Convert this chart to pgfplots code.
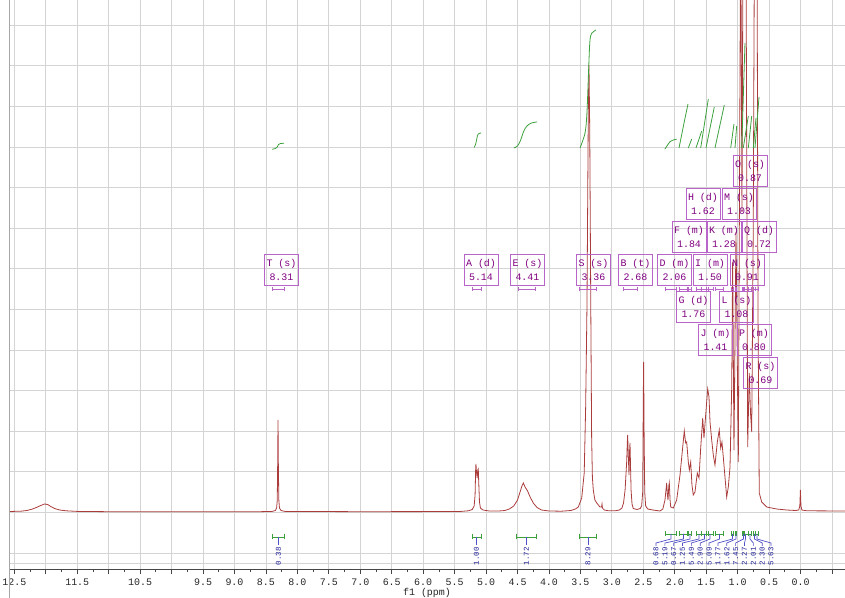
\documentclass[border=0pt]{standalone}
\usepackage{fontspec}
\setmainfont{Liberation Mono}
\usepackage{pgfplots}
\pgfplotsset{compat=1.18}
\usetikzlibrary{arrows.meta}
\definecolor{spec}{RGB}{170,60,60}
\definecolor{gridc}{RGB}{212,212,212}
\definecolor{axisc}{RGB}{70,70,70}
\definecolor{intc}{RGB}{60,160,60}
\definecolor{boxc}{RGB}{185,100,200}
\definecolor{boxt}{RGB}{128,0,128}
\definecolor{bluel}{RGB}{80,80,200}
\definecolor{bluet}{RGB}{30,30,150}
\tikzset{
  lab/.style={draw=boxc, line width=0.8bp, text=boxt, minimum width=34bp, minimum height=31bp, inner sep=0pt, align=center, font=\fontsize{10}{14}\selectfont},
  pbr/.style={draw=boxc, line width=0.8bp, {Bar[width=4bp]}-{Bar[width=4bp]}},
  gbr/.style={draw=intc, line width=0.8bp, {Bar[width=5bp]}-{Bar[width=5bp]}},
  ilab/.style={rotate=90, anchor=east, text=bluet, font=\fontsize{7.5}{8}\selectfont, inner sep=0pt},
  istem/.style={draw=bluel, line width=0.7bp},
  integ/.style={intc, line width=0.8bp, no marks},
}
\begin{document}
\begin{tikzpicture}
\begin{axis}[
  at={(0,0)}, anchor=south west,
  scale only axis, width=836bp, height=569bp,
  xmin=-0.706, xmax=12.585, x dir=reverse,
  ymin=-57, ymax=512,
  axis x line*=bottom, axis y line*=left,
  y axis line style={draw=none},
  ytick style={draw=none},
  x axis line style={draw=axisc, line width=1bp},
  xtick={-0.5,0,...,12.5},
  xticklabels={,0.0,0.5,1.0,1.5,2.0,2.5,3.0,3.5,4.0,4.5,5.0,5.5,6.0,6.5,7.0,7.5,8.0,8.5,9.0,9.5,,10.5,,11.5,,12.5},
  minor x tick num=1,
  tick align=outside,
  major tick length=5bp, minor tick length=3bp,
  xtick style={draw=axisc, line width=0.8bp},
  ytick={-51,-41,-0.4,40.2,80.8,121.4,162,202.6,243.2,283.8,324.4,365,405.6,446.2,486.8},
  yticklabels={},
  grid=major,
  major grid style={draw=gridc, line width=0.8bp},
  xticklabel style={font=\fontsize{10}{12}\selectfont, text=black!85, yshift=-1.5bp},
  xlabel={f1 (ppm)},
  xlabel style={font=\fontsize{10}{12}\selectfont, text=black!85, inner sep=0pt, yshift=1bp},
  clip=true,
]
% ---------------- spectrum ----------------
\addplot[spec, line width=0.8bp, no marks] coordinates {
(12.58,0.5)(12.40,0.8)(12.30,1.5)(12.22,2.8)(12.15,4.5)(12.08,6.5)(12.02,8)(11.97,7.5)(11.92,5.5)(11.86,3.5)(11.78,2)(11.68,1.2)(11.50,0.6)(11.00,0.3)(10.00,0.2)(9.00,0.2)(8.60,0.3)
(8.40,0.6)(8.35,1.5)(8.33,4)(8.32,12)(8.313,50)(8.308,92)(8.303,50)(8.295,12)(8.285,4)(8.26,1.5)(8.20,0.6)(7.00,0.3)(6.00,0.4)
(5.40,0.6)(5.28,1.2)(5.22,2.5)(5.19,6)(5.175,17)(5.166,42)(5.161,48)(5.153,40)(5.142,34)(5.132,42)(5.124,43)(5.117,30)(5.105,10)(5.09,4)(5.05,2)(4.95,1)
(4.80,1)(4.70,1.5)(4.63,3)(4.56,6)(4.50,12)(4.46,20)(4.43,26)(4.408,29)(4.38,25)(4.34,21)(4.30,15)(4.25,9)(4.19,4.5)(4.12,2)(4.00,1)(3.80,0.8)
(3.65,1.5)(3.58,3)(3.534,5)(3.48,14)(3.44,39)(3.417,105)(3.396,206)(3.375,400)(3.364,447)(3.352,380)(3.335,200)(3.322,75)(3.31,35)(3.296,22)(3.27,12)(3.24,9)(3.19,5)(3.165,5)(3.157,8)(3.15,4)(3.12,2)(3.05,1.2)
(2.95,1.2)(2.88,2)(2.84,4)(2.815,9)(2.79,22)(2.765,50)(2.752,74)(2.749,77)(2.742,62)(2.728,37)(2.718,62)(2.712,69)(2.705,50)(2.695,22)(2.68,8)(2.66,3.5)(2.60,2.5)
(2.55,3.5)(2.527,6)(2.51,20)(2.50,120)(2.495,150)(2.488,80)(2.478,20)(2.463,6)(2.43,3)(2.35,2)
(2.235,1)(2.19,3)(2.156,12)(2.135,25)(2.129,29)(2.118,18)(2.108,12)(2.095,26)(2.087,29)(2.075,12)(2.065,5)(2.024,4)
(1.97,12)(1.917,37)(1.874,65)(1.849,81)(1.827,69)(1.811,70)(1.785,50)(1.769,42)(1.747,50)(1.727,27)(1.706,17)(1.679,20)(1.642,39)(1.615,34)
(1.588,64)(1.556,94)(1.536,74)(1.515,92)(1.477,123)(1.456,115)(1.440,90)(1.413,72)(1.388,57)(1.361,47)(1.324,70)(1.293,82)(1.270,64)(1.250,70)
(1.229,55)(1.202,35)(1.175,15)(1.149,25)(1.122,45)(1.095,125)(1.080,250)(1.059,62)(1.027,280)(0.990,50)(0.952,600)(0.932,300)(0.911,650)(0.876,720)
(0.841,65)(0.816,139)(0.797,100)(0.777,80)(0.752,290)(0.725,720)(0.698,720)(0.677,200)(0.657,19)(0.618,10)(0.539,5)(0.380,3)(0.221,2)
(0.08,1.5)(0.03,2)(0.012,6)(0.003,22)(-0.006,6)(-0.02,2)(-0.10,1.2)(-0.71,1)
};
% ---------------- integral curves ----------------
\addplot[integ, smooth] coordinates {(8.40,362.7)(8.35,363.5)(8.32,365)(8.30,367.5)(8.27,368.5)(8.21,368.7)};
\addplot[integ, smooth] coordinates {(5.19,364.5)(5.165,368)(5.145,374)(5.125,378)(5.08,379)};
\addplot[integ, smooth] coordinates {(4.56,364)(4.50,366)(4.45,372)(4.40,381)(4.35,386)(4.28,389)(4.19,390)};
\addplot[integ, smooth] coordinates {(3.507,364)(3.427,379)(3.396,400)(3.364,452)(3.348,472)(3.321,478.7)(3.253,482)};
\addplot[integ, smooth] coordinates {(2.156,363)(2.076,370.3)(2.024,372)(1.97,372.7)};
\addplot[integ] coordinates {(1.933,364)(1.85,390)(1.79,408)};
\addplot[integ] coordinates {(1.785,364)(1.731,373)};
\addplot[integ] coordinates {(1.663,364)(1.572,381)};
\addplot[integ] coordinates {(1.588,364)(1.467,413)};
\addplot[integ] coordinates {(1.504,364)(1.372,405)};
\addplot[integ] coordinates {(1.361,364)(1.213,407)};
\addplot[integ] coordinates {(1.111,364)(1.059,388)};
\addplot[integ] coordinates {(1.043,364)(1.016,386)};
\addplot[integ] coordinates {(0.936,364)(0.884,469)};
\addplot[integ] coordinates {(0.911,364)(0.831,396)};
\addplot[integ] coordinates {(0.831,364)(0.777,396)};
\addplot[integ] coordinates {(0.752,364)(0.709,394)};
\addplot[integ] coordinates {(0.725,364)(0.661,415)};
% ---------------- multiplet brackets (purple) ----------------
\draw[pbr] (axis cs:8.40,223) -- (axis cs:8.20,223);
\draw[pbr] (axis cs:5.219,223) -- (axis cs:5.070,223);
\draw[pbr] (axis cs:4.493,223) -- (axis cs:4.211,223);
\draw[pbr] (axis cs:3.518,223) -- (axis cs:3.242,223);
\draw[pbr] (axis cs:2.819,223) -- (axis cs:2.590,223);
\draw[pbr] (axis cs:2.156,223) -- (axis cs:1.965,223);
\draw[pbr] (axis cs:1.933,223) -- (axis cs:1.790,223);
\draw[pbr] (axis cs:1.785,223) -- (axis cs:1.731,223);
\draw[pbr] (axis cs:1.663,223) -- (axis cs:1.572,223);
\draw[pbr] (axis cs:1.588,223) -- (axis cs:1.467,223);
\draw[pbr] (axis cs:1.504,223) -- (axis cs:1.372,223);
\draw[pbr] (axis cs:1.361,223) -- (axis cs:1.213,223);
\draw[pbr] (axis cs:1.111,223) -- (axis cs:1.059,223);
\draw[pbr] (axis cs:1.043,223) -- (axis cs:1.016,223);
\draw[pbr] (axis cs:0.936,223) -- (axis cs:0.884,223);
\draw[pbr] (axis cs:0.911,223) -- (axis cs:0.831,223);
\draw[pbr] (axis cs:0.831,223) -- (axis cs:0.777,223);
\draw[pbr] (axis cs:0.752,223) -- (axis cs:0.709,223);
\draw[pbr] (axis cs:0.725,223) -- (axis cs:0.661,223);
% ---------------- multiplet labels ----------------
\node[lab] at (axis cs:8.253,242.5) {T (s)\\8.31};
\node[lab] at (axis cs:5.081,242.5) {A (d)\\5.14};
\node[lab] at (axis cs:4.342,242.5) {E (s)\\4.41};
\node[lab] at (axis cs:3.293,242.5) {S (s)\\3.36};
\node[lab] at (axis cs:2.625,242.5) {B (t)\\2.68};
\node[lab] at (axis cs:2.005,242.5) {D (m)\\2.06};
\node[lab] at (axis cs:1.440,242.5) {I (m)\\1.50};
\node[lab] at (axis cs:0.852,242.5) {N (s)\\0.91};
\node[lab] at (axis cs:1.774,275.5) {F (m)\\1.84};
\node[lab] at (axis cs:1.218,275.5) {K (m)\\1.28};
\node[lab] at (axis cs:0.661,275.5) {Q (d)\\0.72};
\node[lab] at (axis cs:1.552,308.5) {H (d)\\1.62};
\node[lab] at (axis cs:0.979,308.5) {M (s)\\1.03};
\node[lab] at (axis cs:0.804,341.5) {O (s)\\0.87};
\node[lab] at (axis cs:1.703,205.5) {G (d)\\1.76};
\node[lab] at (axis cs:1.019,205.5) {L (s)\\1.08};
\node[lab] at (axis cs:1.353,172) {J (m)\\1.41};
\node[lab] at (axis cs:0.741,172) {P (m)\\0.80};
\node[lab] at (axis cs:0.638,139.5) {R (s)\\0.69};
% ---------------- integration brackets (green) and values ----------------
\draw[gbr] (axis cs:8.40,-25) -- (axis cs:8.20,-25);
\draw[gbr] (axis cs:5.22,-25) -- (axis cs:5.07,-25);
\draw[gbr] (axis cs:4.52,-25) -- (axis cs:4.19,-25);
\draw[gbr] (axis cs:3.53,-25) -- (axis cs:3.24,-25);
\draw[istem] (axis cs:8.300,-25) -- (axis cs:8.300,-33);
\draw[istem] (axis cs:5.153,-25) -- (axis cs:5.153,-33);
\draw[istem] (axis cs:4.358,-25) -- (axis cs:4.358,-33);
\draw[istem] (axis cs:3.380,-25) -- (axis cs:3.380,-33);
\node[ilab] at (axis cs:8.300,-35) {0.38};
\node[ilab] at (axis cs:5.153,-35) {1.00};
\node[ilab] at (axis cs:4.358,-35) {1.72};
\node[ilab] at (axis cs:3.380,-35) {8.29};
\draw[gbr] (axis cs:2.156,-22) -- (axis cs:1.965,-22);
\draw[gbr] (axis cs:1.933,-22) -- (axis cs:1.790,-22);
\draw[gbr] (axis cs:1.785,-22) -- (axis cs:1.731,-22);
\draw[gbr] (axis cs:1.663,-22) -- (axis cs:1.572,-22);
\draw[gbr] (axis cs:1.588,-22) -- (axis cs:1.467,-22);
\draw[gbr] (axis cs:1.504,-22) -- (axis cs:1.372,-22);
\draw[gbr] (axis cs:1.361,-22) -- (axis cs:1.213,-22);
\draw[gbr] (axis cs:1.111,-22) -- (axis cs:1.059,-22);
\draw[gbr] (axis cs:1.043,-22) -- (axis cs:1.016,-22);
\draw[gbr] (axis cs:0.936,-22) -- (axis cs:0.884,-22);
\draw[gbr] (axis cs:0.911,-22) -- (axis cs:0.831,-22);
\draw[gbr] (axis cs:0.831,-22) -- (axis cs:0.777,-22);
\draw[gbr] (axis cs:0.752,-22) -- (axis cs:0.709,-22);
\draw[gbr] (axis cs:0.725,-22) -- (axis cs:0.661,-22);
\draw[istem] (axis cs:2.060,-22) -- (axis cs:2.060,-27) -- (axis cs:2.299,-31) -- (axis cs:2.299,-34);
\draw[istem] (axis cs:1.862,-22) -- (axis cs:1.862,-27) -- (axis cs:2.158,-31) -- (axis cs:2.158,-34);
\draw[istem] (axis cs:1.758,-22) -- (axis cs:1.758,-27) -- (axis cs:2.017,-31) -- (axis cs:2.017,-34);
\draw[istem] (axis cs:1.615,-22) -- (axis cs:1.615,-27) -- (axis cs:1.877,-31) -- (axis cs:1.877,-34);
\draw[istem] (axis cs:1.528,-22) -- (axis cs:1.528,-27) -- (axis cs:1.736,-31) -- (axis cs:1.736,-34);
\draw[istem] (axis cs:1.440,-22) -- (axis cs:1.440,-27) -- (axis cs:1.595,-31) -- (axis cs:1.595,-34);
\draw[istem] (axis cs:1.289,-22) -- (axis cs:1.289,-27) -- (axis cs:1.455,-31) -- (axis cs:1.455,-34);
\draw[istem] (axis cs:1.083,-22) -- (axis cs:1.083,-27) -- (axis cs:1.314,-31) -- (axis cs:1.314,-34);
\draw[istem] (axis cs:1.027,-22) -- (axis cs:1.027,-27) -- (axis cs:1.173,-31) -- (axis cs:1.173,-34);
\draw[istem] (axis cs:0.908,-22) -- (axis cs:0.908,-27) -- (axis cs:1.033,-31) -- (axis cs:1.033,-34);
\draw[istem] (axis cs:0.876,-22) -- (axis cs:0.876,-27) -- (axis cs:0.892,-31) -- (axis cs:0.892,-34);
\draw[istem] (axis cs:0.804,-22) -- (axis cs:0.804,-27) -- (axis cs:0.751,-31) -- (axis cs:0.751,-34);
\draw[istem] (axis cs:0.733,-22) -- (axis cs:0.733,-27) -- (axis cs:0.610,-31) -- (axis cs:0.610,-34);
\draw[istem] (axis cs:0.693,-22) -- (axis cs:0.693,-27) -- (axis cs:0.470,-31) -- (axis cs:0.470,-34);
\node[ilab] at (axis cs:2.299,-35) {0.68};
\node[ilab] at (axis cs:2.158,-35) {5.19};
\node[ilab] at (axis cs:2.017,-35) {0.67};
\node[ilab] at (axis cs:1.877,-35) {1.25};
\node[ilab] at (axis cs:1.736,-35) {5.49};
\node[ilab] at (axis cs:1.595,-35) {2.90};
\node[ilab] at (axis cs:1.455,-35) {5.09};
\node[ilab] at (axis cs:1.314,-35) {1.77};
\node[ilab] at (axis cs:1.173,-35) {1.62};
\node[ilab] at (axis cs:1.033,-35) {7.45};
\node[ilab] at (axis cs:0.892,-35) {2.27};
\node[ilab] at (axis cs:0.751,-35) {2.01};
\node[ilab] at (axis cs:0.610,-35) {2.30};
\node[ilab] at (axis cs:0.470,-35) {5.63};
\end{axis}
\draw[draw=black!35, line width=1bp] (0,-29bp) -- (0,569bp);
\pgfresetboundingbox
\useasboundingbox (-9bp,-29bp) rectangle (836bp,569bp);
\end{tikzpicture}
\end{document}
